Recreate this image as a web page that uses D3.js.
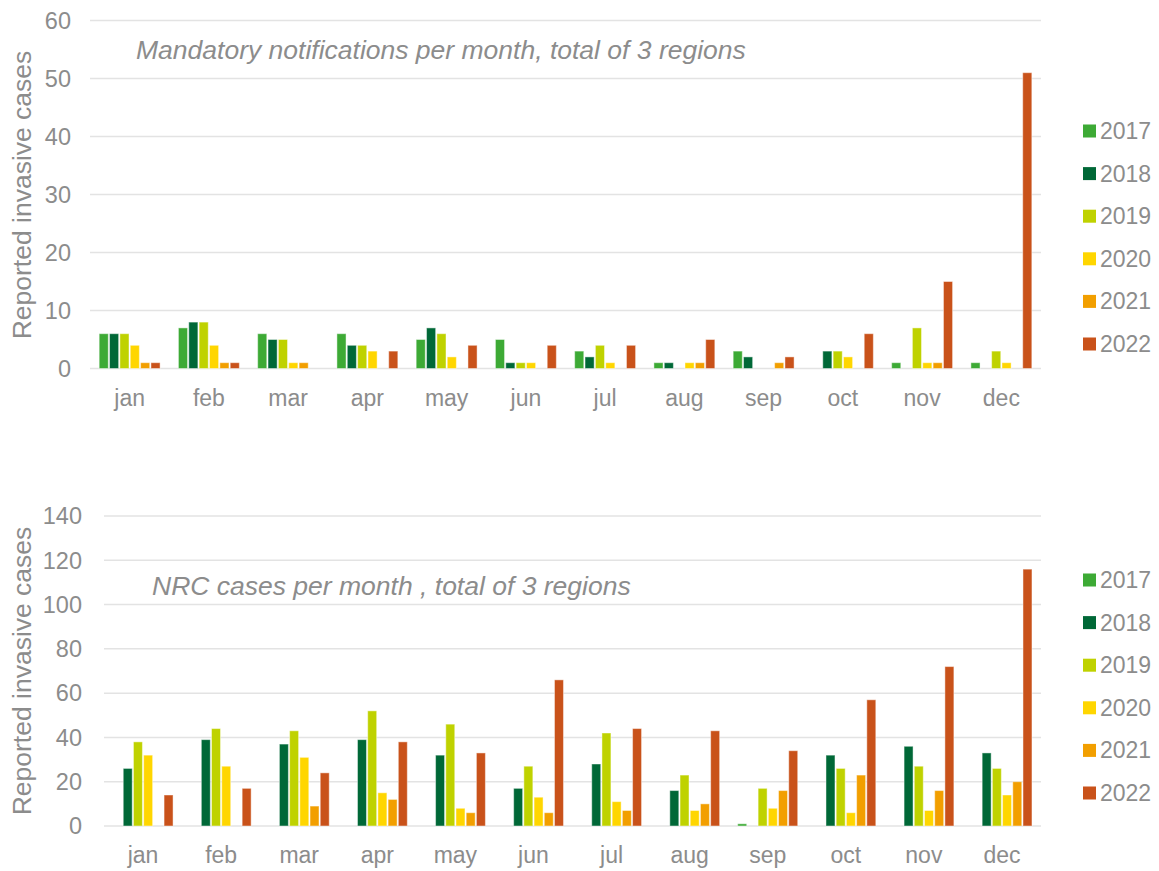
<!DOCTYPE html>
<html>
<head>
<meta charset="utf-8">
<script src="https://cdn.jsdelivr.net/npm/d3@7/dist/d3.min.js"></script>
<style>
  html, body { margin: 0; padding: 0; background: #fff; }
  svg { display: block; font-family: "Liberation Sans", Arial, sans-serif; }
</style>
</head>
<body>
<svg id="chart" width="1159" height="871"></svg>
<script>
const months = ["jan","feb","mar","apr","may","jun","jul","aug","sep","oct","nov","dec"];
const years = ["2017","2018","2019","2020","2021","2022"];
const colors = ["#3DAA35","#006837","#BFD200","#FFD600","#F29F00","#C9521A"];

// Mandatory notifications per month (one array per year, Jan..Dec)
const mandatory2017 = [6,7,6,6,5,5,3,1,3,0,1,1];
const mandatory2018 = [6,8,5,4,7,1,2,1,2,3,0,0];
const mandatory2019 = [6,8,5,4,6,1,4,0,0,3,7,3];
const mandatory2020 = [4,4,1,3,2,1,1,1,0,2,1,1];
const mandatory2021 = [1,1,1,0,0,0,0,1,1,0,1,0];
const mandatory2022 = [1,1,0,3,4,4,4,5,2,6,15,51];

// NRC cases per month
const nrc2017 = [0,0,0,0,0,0,0,0,1,0,0,0];
const nrc2018 = [26,39,37,39,32,17,28,16,0,32,36,33];
const nrc2019 = [38,44,43,52,46,27,42,23,17,26,27,26];
const nrc2020 = [32,27,31,15,8,13,11,7,8,6,7,14];
const nrc2021 = [0,0,9,12,6,6,7,10,16,23,16,20];
const nrc2022 = [14,17,24,38,33,66,44,43,34,57,72,116];

const topTicks = [0,10,20,30,40,50,60];
const bottomTicks = [0,20,40,60,80,100,120,140];

const topTitle = "Mandatory notifications per month, total of 3 regions";
const bottomTitle = "NRC cases per month , total of 3 regions";
const yLabel = "Reported invasive cases";

const textColor = "#8c8c8c";
const gridColor = "#e3e3e3";

const svg = d3.select("#chart");

function drawPanel(cfg) {
  const series = cfg.series;
  const g = svg.append("g");
  const x0 = d3.scaleBand().domain(months).range([cfg.left, cfg.right]).paddingInner(0.2).paddingOuter(0.1);
  const x1 = d3.scaleBand().domain(years).range([0, x0.bandwidth()]).padding(0.12);
  const y = d3.scaleLinear().domain([0, cfg.ticks[cfg.ticks.length-1]]).range([cfg.bottom, cfg.top]);

  // gridlines
  g.selectAll("line.grid").data(cfg.ticks).enter().append("line")
    .attr("x1", cfg.left).attr("x2", cfg.right)
    .attr("y1", d => y(d)).attr("y2", d => y(d))
    .attr("stroke", gridColor).attr("stroke-width", 1.5);

  // y tick labels
  g.selectAll("text.ytick").data(cfg.ticks).enter().append("text")
    .attr("x", cfg.tickX).attr("y", d => y(d)).attr("dy", "0.35em")
    .attr("text-anchor", "end").attr("fill", textColor)
    .attr("font-size", 23.5).text(d => d);

  // bars
  months.forEach((m, mi) => {
    years.forEach((yr, yi) => {
      const v = series[yi][mi];
      if (v <= 0) return;
      g.append("rect")
        .attr("x", x0(m) + x1(yr))
        .attr("width", x1.bandwidth())
        .attr("y", y(v))
        .attr("height", y(0) - y(v))
        .attr("fill", colors[yi])
        .attr("stroke", "rgba(255,255,255,0.45)")
        .attr("stroke-width", 1);
    });
  });

  // month labels
  g.selectAll("text.mlab").data(months).enter().append("text")
    .attr("x", d => x0(d) + x0.bandwidth()/2)
    .attr("y", cfg.bottom + 29).attr("dy", "0.35em")
    .attr("text-anchor", "middle").attr("fill", textColor)
    .attr("font-size", 23).text(d => d);

  // title
  g.append("text").attr("x", cfg.titleX).attr("y", cfg.titleY).attr("dy", "0.35em")
    .attr("fill", textColor).attr("font-size", 26.5).attr("font-style", "italic")
    .text(cfg.title);

  // y label
  g.append("text")
    .attr("transform", `translate(${cfg.yLabelX},${cfg.yLabelY}) rotate(-90)`)
    .attr("text-anchor", "middle").attr("dy", "0.35em")
    .attr("fill", textColor).attr("font-size", 26.5).text(yLabel);

  // legend
  years.forEach((yr, i) => {
    const ly = cfg.legendY + i * 42.6;
    g.append("rect").attr("x", 1083).attr("y", ly - 6.5).attr("width", 13).attr("height", 13)
      .attr("fill", colors[i]);
    g.append("text").attr("x", 1100).attr("y", ly).attr("dy", "0.35em")
      .attr("fill", textColor).attr("font-size", 23).text(yr);
  });
}

drawPanel({
  series: [mandatory2017, mandatory2018, mandatory2019, mandatory2020, mandatory2021, mandatory2022],
  ticks: topTicks, left: 90, right: 1041, top: 20.5, bottom: 368.5,
  tickX: 71, title: topTitle, titleX: 136, titleY: 50,
  yLabelX: 22, yLabelY: 195, legendY: 131
});

drawPanel({
  series: [nrc2017, nrc2018, nrc2019, nrc2020, nrc2021, nrc2022],
  ticks: bottomTicks, left: 104, right: 1041, top: 516, bottom: 826,
  tickX: 82, title: bottomTitle, titleX: 152, titleY: 586,
  yLabelX: 22, yLabelY: 671, legendY: 580
});
</script>
</body>
</html>
